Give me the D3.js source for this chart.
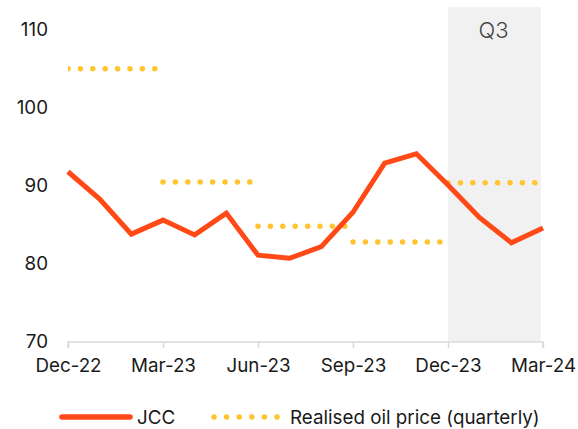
<!DOCTYPE html>
<html>
<head>
<meta charset="utf-8">
<script src="https://cdn.jsdelivr.net/npm/d3@7"></script>
<style>
  body { margin: 0; background: #fff; }
  text { font-family: Inter, "Noto Sans", sans-serif; fill: #1a1a1a; }
</style>
</head>
<body>
<div id="chart"></div>
<script>
const months = ["Dec-22","Jan-23","Feb-23","Mar-23","Apr-23","May-23","Jun-23","Jul-23",
                "Aug-23","Sep-23","Oct-23","Nov-23","Dec-23","Jan-24","Feb-24","Mar-24"]
const jcc = [91.7, 88.2, 83.7, 85.5, 83.6, 86.4, 81.0, 80.6, 82.1, 86.5, 92.8, 94.0, 90.0, 85.8, 82.6, 84.5]
// quarterly realised price, start month index of each quarter
const quarterStart = [0, 3, 6, 9, 12]
const realised = [104.9, 90.4, 84.7, 82.7, 90.3]
const xTicks = ["Dec-22","Mar-23","Jun-23","Sep-23","Dec-23","Mar-24"]
const yTicks = [70, 80, 90, 100, 110]
const highlight = { from: 12, to: 15, label: "Q3" }

const width = 578
const height = 429
const orange = "#ff4a17"
const gold = "#ffc42e"
const fontSize = "18.8px"

const svg = d3.select("#chart").append("svg")
    .attr("width", width)
    .attr("height", height)

const x = d3.scaleLinear().domain([0, months.length - 1]).range([68, 543])
const y = d3.scaleLinear().domain([70, 110]).range([341, 29])

svg.append("clipPath").attr("id", "plot")
    .append("rect").attr("x", x(0)).attr("y", 0).attr("width", x(15) - x(0) + 10).attr("height", y(70))

// shaded quarter
svg.append("rect")
    .attr("x", x(highlight.from))
    .attr("y", y(112.8))
    .attr("width", x(highlight.to) - x(highlight.from) - 2)
    .attr("height", y(70) - y(112.8))
    .attr("fill", "#f1f1f1")

svg.append("text")
    .attr("x", (x(highlight.from) + x(highlight.to)) / 2 - 2)
    .attr("y", y(110) + 9)
    .attr("text-anchor", "middle")
    .style("font-size", "22px")
    .style("font-weight", 300)
    .style("fill", "#444")
    .text(highlight.label)

// x axis
const xAxis = d3.axisBottom(x)
    .tickValues(xTicks.map(t => months.indexOf(t)))
    .tickFormat(i => months[i])
    .tickSize(6)
    .tickPadding(11)

const gx = svg.append("g")
    .attr("transform", `translate(0,${y(70) + 1})`)
    .call(xAxis)
gx.select(".domain").attr("stroke", "#d9d9d9").attr("stroke-width", 1.5)
    .attr("d", `M${x(0)},6V0H${x(15)}V6`)
gx.selectAll(".tick line").attr("stroke", "#d9d9d9").attr("stroke-width", 1.5)
gx.selectAll(".tick text").style("font-size", fontSize).style("fill", "#1a1a1a")
    .style("font-family", "Inter, sans-serif")

// y labels
const yAxis = d3.axisLeft(y).tickValues(yTicks).tickSize(0).tickPadding(0)
const gy = svg.append("g").attr("transform", "translate(48,0)").call(yAxis)
gy.select(".domain").remove()
gy.selectAll(".tick text").style("font-size", fontSize).style("fill", "#1a1a1a")
    .style("font-family", "Inter, sans-serif")

// realised dotted segments
svg.append("g").attr("clip-path", "url(#plot)")
    .selectAll("line")
    .data(realised)
    .join("line")
    .attr("x1", (d, i) => x(quarterStart[i]))
    .attr("x2", (d, i) => x(quarterStart[i] + 3) - 4)
    .attr("y1", d => y(d))
    .attr("y2", d => y(d))
    .attr("stroke", gold)
    .attr("stroke-width", 5.5)
    .attr("stroke-linecap", "round")
    .attr("stroke-dasharray", "0 12.4")

// JCC line
const line = d3.line().x((d, i) => x(i)).y(d => y(d))
svg.append("path")
    .datum(jcc)
    .attr("d", line)
    .attr("fill", "none")
    .attr("stroke", orange)
    .attr("stroke-width", 5)
    .attr("stroke-linejoin", "miter")

// legend
const ly = 417
svg.append("line")
    .attr("x1", 62).attr("x2", 130).attr("y1", ly).attr("y2", ly)
    .attr("stroke", orange).attr("stroke-width", 5.5).attr("stroke-linecap", "round")
svg.append("text").attr("x", 137).attr("y", ly).attr("dy", "0.35em")
    .style("font-size", fontSize).text("JCC")
svg.append("line")
    .attr("x1", 214).attr("x2", 280).attr("y1", ly).attr("y2", ly)
    .attr("stroke", gold).attr("stroke-width", 5.5).attr("stroke-linecap", "round")
    .attr("stroke-dasharray", "0 12.6")
svg.append("text").attr("x", 290).attr("y", ly).attr("dy", "0.35em")
    .style("font-size", fontSize).text("Realised oil price (quarterly)")
</script>
</body>
</html>
